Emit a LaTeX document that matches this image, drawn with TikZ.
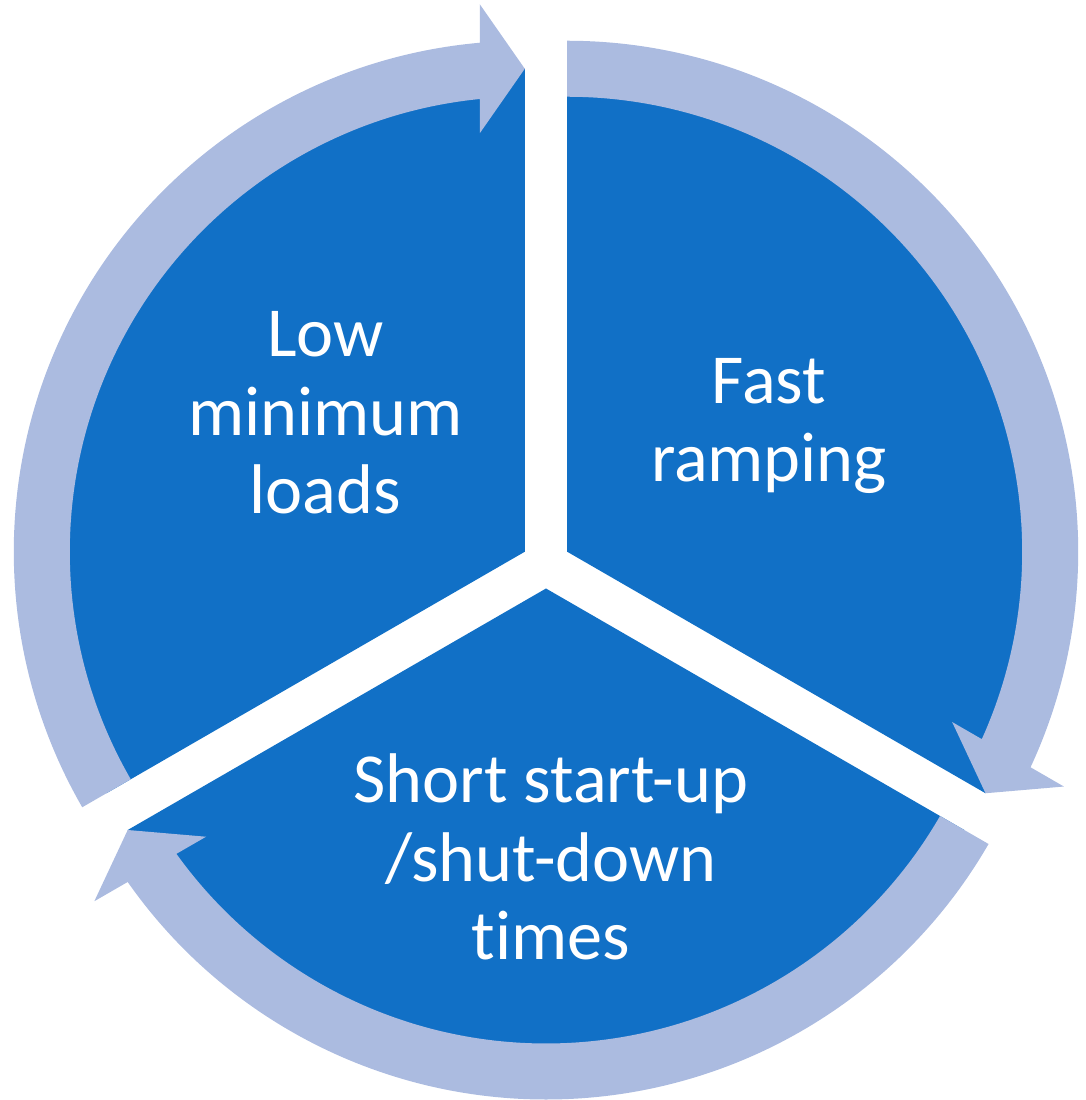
\documentclass[tikz,border=0pt]{standalone}
\usepackage{fontspec}
\setmainfont{Carlito}[Ligatures={NoCommon,NoRare}]
\usepackage{tikz}
\usetikzlibrary{calc}
\definecolor{segblue}{RGB}{17,112,198}
\definecolor{ringblue}{RGB}{171,187,224}
\tikzset{>=latex,
  segment/.style={fill=segblue},
  ringarrow/.style={fill=ringblue},
  seglabel/.style={text=white, align=center, font=\fontsize{20}{22.3}\selectfont}}

\begin{document}
\begin{tikzpicture}
\useasboundingbox (-5.46,-5.36) rectangle (5.40,5.64);
\coordinate (cl) at (150:0.245);
\coordinate (cr) at (30:0.245);
\coordinate (cb) at (270:0.245);
\foreach \c/\a in {cl/90, cr/-30, cb/210}
  \fill[segment] (\c) -- ($(\c)+(\a:4.83)$) arc[start angle=\a, end angle=\a+120, radius=4.83] -- cycle;
\foreach \c/\s in {cl/210, cr/90, cb/330} {
  \pgfmathsetmacro\t{\s-120}
  \fill[ringarrow] ($(\c)+(\s:5.11)$) arc[start angle=\s, end angle=\t+5.052, radius=5.11]
    -- ($(\c)+(\t:5.475)+(\t+90:0.45)$)
    -- ($(\c)+(\t:4.83)$)
    -- ($(\c)+(\t:4.185)+(\t+90:0.45)$)
    -- ($(\c)+(\t+5.676:4.55)$)
    arc[start angle=\t+5.676, end angle=\s, radius=4.55] -- cycle;
}
\node[seglabel] (low) at (-2.205,1.51) {Low\\minimum\\loads};
\node[seglabel] (fast) at (2.23,1.38) {Fast\\ramping};
\node[seglabel] (short) at (0.05,-2.93) {Short start-up\\/shut-down\\times};
\end{tikzpicture}
\end{document}
